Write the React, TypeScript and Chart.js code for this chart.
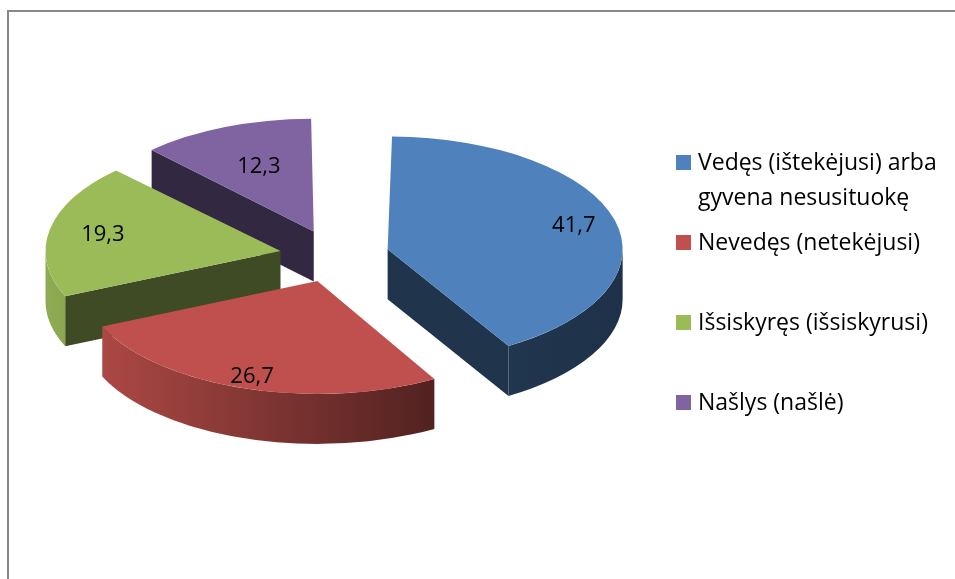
import React, { useEffect, useRef } from "react";
import { Chart, registerables } from "chart.js";

Chart.register(...registerables);

// ---- data ----
const categories = [
  "Vedęs (ištekėjusi) arba gyvena nesusituokę",
  "Nevedęs (netekėjusi)",
  "Išsiskyręs (išsiskyrusi)",
  "Našlys (našlė)",
];
const legendLines = [
  ["Vedęs (ištekėjusi) arba", "gyvena nesusituokę"],
  ["Nevedęs (netekėjusi)"],
  ["Išsiskyręs (išsiskyrusi)"],
  ["Našlys (našlė)"],
];
const values = [41.7, 26.7, 19.3, 12.3];
const colors = ["#4F81BD", "#C0504D", "#9BBB59", "#8064A2"];

const FONT = "'Open Sans', 'Noto Sans', sans-serif";

function shade(hex: string, f: number) {
  const n = parseInt(hex.slice(1), 16);
  const r = Math.round(((n >> 16) & 255) * f);
  const g = Math.round(((n >> 8) & 255) * f);
  const b = Math.round((n & 255) * f);
  return `rgb(${r},${g},${b})`;
}

const framePlugin = {
  id: "frame",
  beforeDraw(chart: any) {
    const ctx = chart.ctx;
    ctx.save();
    ctx.fillStyle = "#ffffff";
    ctx.fillRect(0, 0, chart.width, chart.height);
    ctx.fillStyle = "#898989";
    ctx.fillRect(7, 10, 2, chart.height - 10);
    ctx.fillRect(7, 10, chart.width - 7, 2);
    ctx.restore();
  },
};

const pie3dPlugin = {
  id: "pie3d",
  beforeDatasetsDraw(chart: any, _args: any, opts: any) {
    const ctx = chart.ctx;
    const meta = chart.getDatasetMeta(0);
    const arcs = meta.data;
    if (!arcs.length) return;
    const k = opts.tilt;
    const h = opts.depth;
    const cy0 = arcs[0].y;
    const geo = arcs.map((el: any, i: number) => {
      const off = (el.options.offset || 0) / 4;
      const circ = el.endAngle - el.startAngle;
      const fix = 1 - Math.sin(Math.min(Math.PI, circ || 0));
      const ro = off * fix;
      const R = el.outerRadius;
      const beta = Math.max(0.001, circ * R - ro / Math.PI) / R;
      const ang = (circ - beta) / 2;
      const s = el.startAngle + ang;
      const e = el.endAngle - ang;
      const mid = (el.startAngle + el.endAngle) / 2;
      const ex = el.x + Math.cos(mid) * off;
      const eyRaw = el.y + Math.sin(mid) * off;
      const ey = cy0 + (eyRaw - cy0) * k;
      return { el, i, R, ro, s, e, mid, ex, ey, color: chart.data.datasets[0].backgroundColor[i] };
    });
    chart.$pie3d = { geo, k, cy0 };

    const rim = (g: any, a: number) => [g.ex + g.R * Math.cos(a), g.ey + g.R * k * Math.sin(a)];
    const order = [...geo].sort((a, b) => Math.sin(a.mid) - Math.sin(b.mid));
    ctx.save();
    for (const g of order) {
      const radial = (a: number) => {
        const [x, y] = rim(g, a);
        ctx.beginPath();
        ctx.moveTo(g.ex, g.ey);
        ctx.lineTo(x, y);
        ctx.lineTo(x, y + h);
        ctx.lineTo(g.ex, g.ey + h);
        ctx.closePath();
        ctx.fillStyle = shade(g.color, 0.4);
        ctx.fill();
      };
      if (Math.cos(g.s) < -1e-6) radial(g.s);
      if (Math.cos(g.e) > 1e-6) radial(g.e);
      const a0 = Math.max(g.s, 0);
      const a1 = Math.min(g.e, Math.PI);
      if (a1 > a0) {
        const grad = ctx.createLinearGradient(g.ex - g.R, 0, g.ex + g.R, 0);
        grad.addColorStop(0, shade(g.color, 0.92));
        grad.addColorStop(0.75, shade(g.color, 0.42));
        grad.addColorStop(1, shade(g.color, 0.38));
        ctx.beginPath();
        ctx.ellipse(g.ex, g.ey, g.R, g.R * k, 0, a0, a1, false);
        ctx.ellipse(g.ex, g.ey + h, g.R, g.R * k, 0, a1, a0, true);
        ctx.closePath();
        ctx.fillStyle = grad;
        ctx.fill();
      }
    }
    ctx.restore();

    // library-drawn top faces: keep drawn radius equal to R, squash vertically
    for (const g of geo) g.el.outerRadius = g.R - g.ro;
    ctx.save();
    ctx.translate(0, cy0);
    ctx.scale(1, k);
    ctx.translate(0, -cy0);
  },
  afterDatasetsDraw(chart: any, _args: any, opts: any) {
    const st = chart.$pie3d;
    if (!st) return;
    const ctx = chart.ctx;
    ctx.restore();
    for (const g of st.geo) g.el.outerRadius = g.R;
    ctx.save();
    ctx.fillStyle = "#000";
    ctx.font = `${opts.fontSize}px ${FONT}`;
    ctx.textAlign = "center";
    ctx.textBaseline = "middle";
    for (const g of st.geo) {
      const f = opts.labelRadius[g.i];
      const x = g.ex + Math.cos(g.mid) * g.R * f;
      const y = g.ey + Math.sin(g.mid) * g.R * f * st.k;
      const txt = values[g.i].toFixed(1).replace(".", ",");
      ctx.fillText(txt, x, y);
    }
    ctx.restore();
  },
};

const legendPlugin = {
  id: "sideLegend",
  afterDraw(chart: any, _args: any, opts: any) {
    const ctx = chart.ctx;
    const bg = chart.data.datasets[0].backgroundColor;
    ctx.save();
    ctx.font = `${opts.fontSize}px ${FONT}`;
    ctx.textBaseline = "middle";
    ctx.textAlign = "left";
    legendLines.forEach((lines, i) => {
      const top = opts.top + i * opts.spacing;
      ctx.fillStyle = bg[i];
      ctx.fillRect(opts.left, top, opts.box, opts.box);
      ctx.fillStyle = "#000";
      lines.forEach((ln, j) => {
        ctx.fillText(ln, opts.textLeft, top + opts.box / 2 + 1 + j * opts.lineHeight);
      });
    });
    ctx.restore();
  },
};

export default function App() {
  const ref = useRef<HTMLCanvasElement | null>(null);
  useEffect(() => {
    if (!ref.current) return;
    const chart = new Chart(ref.current, {
      type: "pie",
      data: {
        labels: categories,
        datasets: [
          {
            data: values,
            backgroundColor: colors,
            borderWidth: 0,
            offset: 220,
          } as any,
        ],
      },
      options: {
        responsive: false,
        animation: false,
        events: [],
        radius: 235,
        layout: { padding: { left: 0, right: 286, top: 0, bottom: 67 } },
        plugins: {
          legend: { display: false },
          tooltip: { enabled: false },
          title: { display: false },
          pie3d: { tilt: 0.48, depth: 50, fontSize: 22, labelRadius: [0.82, 0.89, 0.77, 0.62] },
          sideLegend: { left: 676, textLeft: 698, top: 155, spacing: 80, box: 15, lineHeight: 35, fontSize: 23 },
        } as any,
      } as any,
      plugins: [framePlugin, pie3dPlugin, legendPlugin],
    });
    return () => chart.destroy();
  }, []);
  return (
    <div style={{ position: "fixed", left: 0, top: 0, width: 955, height: 579, overflow: "hidden", background: "#fff" }}>
      <canvas ref={ref} width={955} height={579} style={{ display: "block", width: 955, height: 579 }} />
    </div>
  );
}
